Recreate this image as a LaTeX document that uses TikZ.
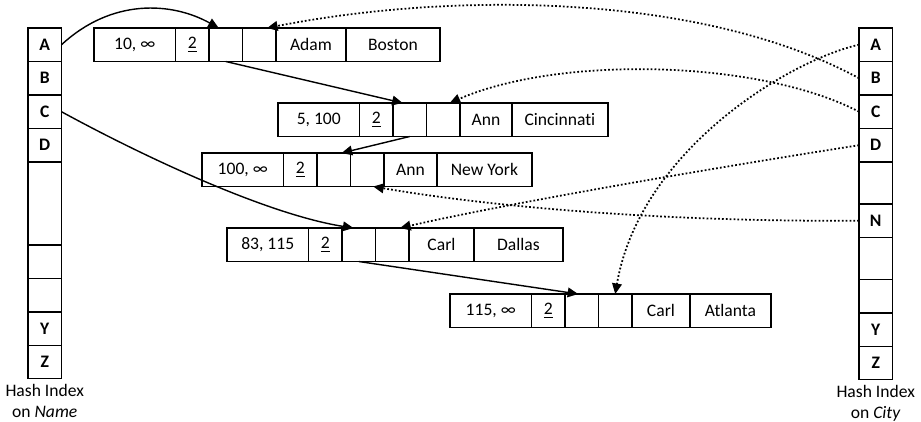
\documentclass[tikz,border=0pt]{standalone}
\usepackage{fontspec}
\setmainfont{Carlito}[Ligatures=NoCommon]
\usetikzlibrary{arrows.meta, positioning}
\tikzset{
  cell/.style     = {draw, line width=0.65pt, minimum height=0.67cm, inner sep=0pt,
                     outer sep=0pt, font=\fontsize{10}{12}\selectfont},
  rngcell/.style  = {cell, minimum width=1.63cm},
  cntcell/.style  = {cell, minimum width=0.67cm},
  ptrcell/.style  = {cell, minimum width=0.67cm},
  hashcell/.style = {cell, minimum width=0.67cm, font=\fontsize{10}{12}\selectfont\bfseries},
  hashlabel/.style= {align=center, inner sep=0pt, font=\fontsize{10}{12}\selectfont},
  namelink/.style = {line width=0.8pt, -{Triangle[length=6pt,width=5.5pt]}},
  citylink/.style = {line width=1pt, dash pattern=on 1pt off 1.2pt,
                     -{Triangle[length=6pt,width=5.5pt]}}
}

\begin{document}
\begin{tikzpicture}[x=0.02cm, y=-0.02cm]
\useasboundingbox (0,0) rectangle (921,422);

% Hash index on Name
\node[hashcell, anchor=north west] (hnA) at (28,28) {A};
\node[hashcell, below=0pt of hnA] (hnB) {B};
\node[hashcell, below=0pt of hnB] (hnC) {C};
\node[hashcell, below=0pt of hnC] (hnD) {D};
\node[hashcell, below=0pt of hnD, minimum height=1.66cm] (hnE) {};
\node[hashcell, below=0pt of hnE] (hnF) {};
\node[hashcell, below=0pt of hnF] (hnG) {};
\node[hashcell, below=0pt of hnG] (hnY) {Y};
\node[hashcell, below=0pt of hnY] (hnZ) {Z};
\node[hashlabel, below=3pt of hnZ] (hnLabel) {Hash Index\\on \textit{Name}};

% Hash index on City
\node[hashcell, anchor=north west] (hcA) at (859,28) {A};
\node[hashcell, below=0pt of hcA] (hcB) {B};
\node[hashcell, below=0pt of hcB] (hcC) {C};
\node[hashcell, below=0pt of hcC] (hcD) {D};
\node[hashcell, below=0pt of hcD, minimum height=0.84cm] (hcE) {};
\node[hashcell, below=0pt of hcE] (hcN) {N};
\node[hashcell, below=0pt of hcN, minimum height=0.84cm] (hcF) {};
\node[hashcell, below=0pt of hcF] (hcG) {};
\node[hashcell, below=0pt of hcG] (hcY) {Y};
\node[hashcell, below=0pt of hcY] (hcZ) {Z};
\node[hashlabel, below=3pt of hcZ] (hcLabel) {Hash Index\\on \textit{City}};

% Record Adam, Boston
\node[rngcell, anchor=north west] (adam-rng) at (94,28) {10, ∞};
\node[cntcell, right=0pt of adam-rng] (adam-cnt) {\underline{2}};
\node[ptrcell, right=0pt of adam-cnt] (adam-pn) {};
\node[ptrcell, right=0pt of adam-pn] (adam-pc) {};
\node[cell, right=0pt of adam-pc, minimum width=1.40cm] (adam-nm) {Adam};
\node[cell, right=0pt of adam-nm, minimum width=1.88cm] (adam-ct) {Boston};

% Record Ann, Cincinnati
\node[rngcell, anchor=north west] (cinc-rng) at (278,103) {5, 100};
\node[cntcell, right=0pt of cinc-rng] (cinc-cnt) {\underline{2}};
\node[ptrcell, right=0pt of cinc-cnt] (cinc-pn) {};
\node[ptrcell, right=0pt of cinc-pn] (cinc-pc) {};
\node[cell, right=0pt of cinc-pc, minimum width=1.04cm] (cinc-nm) {Ann};
\node[cell, right=0pt of cinc-nm, minimum width=1.92cm] (cinc-ct) {Cincinnati};

% Record Ann, New York
\node[rngcell, anchor=north west] (nyc-rng) at (202,153) {100, ∞};
\node[cntcell, right=0pt of nyc-rng] (nyc-cnt) {\underline{2}};
\node[ptrcell, right=0pt of nyc-cnt] (nyc-pn) {};
\node[ptrcell, right=0pt of nyc-pn] (nyc-pc) {};
\node[cell, right=0pt of nyc-pc, minimum width=1.06cm] (nyc-nm) {Ann};
\node[cell, right=0pt of nyc-nm, minimum width=1.90cm] (nyc-ct) {New York};

% Record Carl, Dallas
\node[rngcell, anchor=north west] (dallas-rng) at (227,228) {83, 115};
\node[cntcell, right=0pt of dallas-rng] (dallas-cnt) {\underline{2}};
\node[ptrcell, right=0pt of dallas-cnt] (dallas-pn) {};
\node[ptrcell, right=0pt of dallas-pn] (dallas-pc) {};
\node[cell, right=0pt of dallas-pc, minimum width=1.30cm] (dallas-nm) {Carl};
\node[cell, right=0pt of dallas-nm, minimum width=1.78cm] (dallas-ct) {Dallas};

% Record Carl, Atlanta
\node[rngcell, anchor=north west] (atl-rng) at (450,294) {115, ∞};
\node[cntcell, right=0pt of atl-rng] (atl-cnt) {\underline{2}};
\node[ptrcell, right=0pt of atl-cnt] (atl-pn) {};
\node[ptrcell, right=0pt of atl-pn] (atl-pc) {};
\node[cell, right=0pt of atl-pc, minimum width=1.16cm] (atl-nm) {Carl};
\node[cell, right=0pt of atl-nm, minimum width=1.62cm] (atl-ct) {Atlanta};

% Chains from the Name index
\draw[namelink] (hnA.east) .. controls (112,-2) and (172,2) .. ([xshift=-4pt]adam-pn.north);
\draw[namelink] (adam-pn.south) -- ([xshift=-4pt]cinc-pn.north);
\draw[namelink] (cinc-pn.south) -- ([xshift=4.5pt]nyc-pn.north);
\draw[namelink] (hnC.east) .. controls (150,160) and (270,215) .. ([xshift=-3pt]dallas-pn.north);
\draw[namelink] (dallas-pn.south) -- ([xshift=-2pt]atl-pn.north);

% Chains from the City index
\draw[citylink] (hcB.west) .. controls (700,-8) and (450,-8) .. ([xshift=4.5pt]adam-pc.north);
\draw[citylink] (hcC.west) .. controls (760,60) and (560,55) .. ([xshift=3.7pt]cinc-pc.north);
\draw[citylink] (hcA.west) .. controls (790,60) and (640,150) .. (atl-pc.north);
\draw[citylink] (hcD.west) .. controls (700,170) and (500,205) .. ([xshift=4.5pt]dallas-pc.north);
\draw[citylink] (hcN.west) .. controls (650,222) and (480,205) .. ([xshift=3.4pt]nyc-pc.south);

\end{tikzpicture}
\end{document}
